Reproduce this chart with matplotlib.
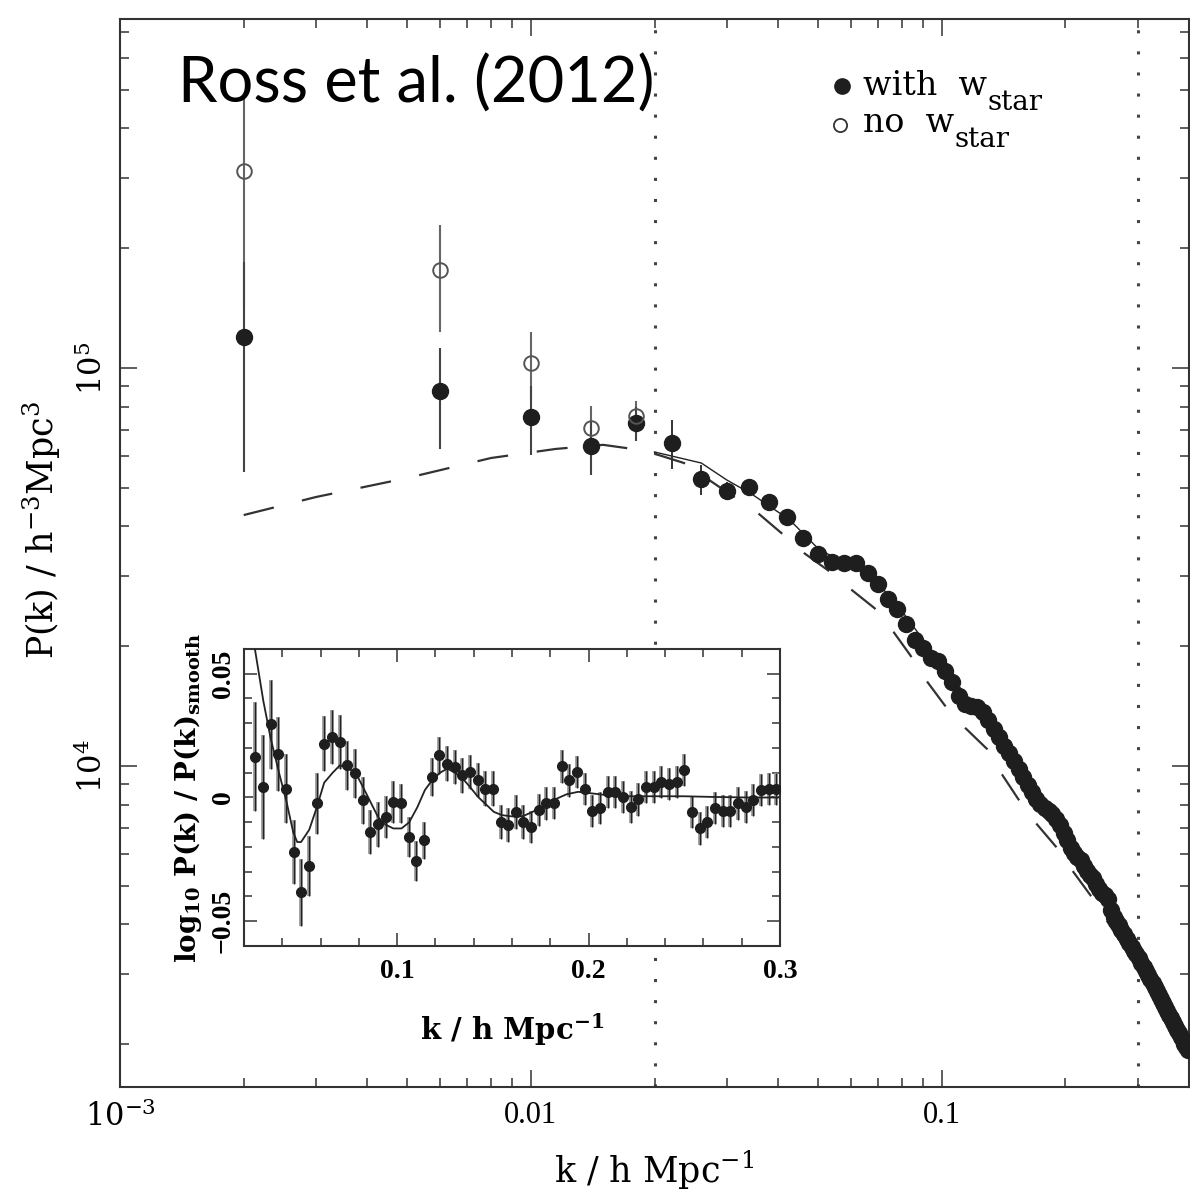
import matplotlib
matplotlib.use("Agg")
import matplotlib.pyplot as plt
from matplotlib.ticker import FixedLocator, LogLocator, MultipleLocator, NullFormatter

plt.rcParams['font.family'] = ['Liberation Serif', 'DejaVu Serif']
plt.rcParams['mathtext.fontset'] = 'dejavuserif'

# ---- main panel data: P(k) in h^-3 Mpc^3 ----
# large scale bins, with and without the w_star weights
k_low = [0.002, 0.006, 0.010, 0.014, 0.018]
p_low_with = [119700, 87500, 75300, 63700, 72700]
err_low_with = [65000, 25000, 15000, 10000, 7000]
p_low_no = [312600, 176300, 102900, 70700, 75800]
err_low_no = [172000, 53000, 20000, 9600, 7000]

# remaining bins (both versions coincide here)
k_main = [0.022, 0.026, 0.030, 0.034, 0.038, 0.042, 0.046, 0.050, 0.054, 0.058,
          0.062, 0.066, 0.070, 0.074, 0.078, 0.082, 0.086, 0.090, 0.094, 0.098,
          0.102, 0.106, 0.110, 0.114, 0.118, 0.122, 0.126, 0.130, 0.134, 0.138,
          0.142, 0.146, 0.150, 0.154, 0.158, 0.162, 0.166, 0.170, 0.174, 0.178,
          0.182, 0.186, 0.190, 0.194, 0.198, 0.202, 0.206, 0.210, 0.214, 0.218,
          0.222, 0.226, 0.230, 0.234, 0.238, 0.242, 0.246, 0.250, 0.254, 0.258,
          0.262, 0.266, 0.270, 0.274, 0.278, 0.282, 0.286, 0.290, 0.294, 0.298,
          0.302, 0.306, 0.310, 0.314, 0.318, 0.322, 0.326, 0.330, 0.334, 0.338,
          0.342, 0.346, 0.350, 0.354, 0.358, 0.362, 0.366, 0.370, 0.374, 0.378,
          0.382, 0.386, 0.390, 0.394, 0.398]
p_main = [64800, 52600, 49100, 50200, 46100, 42200, 37400, 34100, 32600, 32400,
          32400, 30500, 28700, 26300, 24800, 22700, 20700, 19800, 18700, 18360,
          17330, 16260, 14990, 14310, 14150, 14070, 13670, 13050, 12390, 11830,
          11230, 10780, 10290, 9830, 9380, 8960, 8600, 8260, 8030, 7840,
          7710, 7575, 7360, 7110, 6790, 6520, 6220, 6040, 5910, 5805,
          5607, 5447, 5322, 5231, 5053, 4909, 4796, 4741, 4632, 4346,
          4174, 4079, 3985, 3872, 3784, 3675, 3592, 3508, 3429, 3369,
          3293, 3199, 3126, 3054, 2985, 2916, 2850, 2785, 2721, 2659,
          2599, 2539, 2481, 2425, 2369, 2328, 2275, 2223, 2172, 2135,
          2086, 2050, 2003, 1968, 1934]
err_main_first = [9000, 4600, 2500]

# smooth (no-wiggle) model, dashed
k_smooth = [0.002, 0.003, 0.005, 0.008, 0.0115, 0.015, 0.0185, 0.0205, 0.0236, 0.0357,
            0.0407, 0.0462, 0.0527, 0.0601, 0.0687, 0.0764, 0.0838, 0.0923, 0.1016, 0.1135,
            0.129, 0.1395, 0.1536, 0.1695, 0.190, 0.2075, 0.230, 0.30, 0.40]
p_smooth = [42700, 47400, 52900, 59400, 62600, 64100, 62200, 60400, 57700, 43200,
            38500, 34300, 31100, 27800, 24900, 21700, 19000, 16260, 14230, 12530,
            11030, 9600, 8260, 7190, 6260, 5480, 4740, 3100, 1850]

# BAO model fit, solid
k_fit = [0.020, 0.026, 0.030, 0.0345, 0.0427, 0.0504, 0.060, 0.070, 0.080, 0.100,
         0.120, 0.150, 0.200, 0.250, 0.300, 0.400]
p_fit = [61500, 57700, 52300, 48200, 41500, 34900, 32000, 28800, 24500, 18000,
         14200, 10300, 6600, 4750, 3300, 1930]

k_range = [0.02, 0.3]

# ---- inset data: log10 P(k)/P(k)_smooth ----
k_in = [0.026, 0.030, 0.034, 0.038, 0.042, 0.046, 0.050, 0.054, 0.058, 0.062,
        0.066, 0.070, 0.074, 0.078, 0.082, 0.086, 0.090, 0.094, 0.098, 0.102,
        0.106, 0.110, 0.114, 0.118, 0.122, 0.126, 0.130, 0.134, 0.138, 0.142,
        0.146, 0.150, 0.154, 0.158, 0.162, 0.166, 0.170, 0.174, 0.178, 0.182,
        0.186, 0.190, 0.194, 0.198, 0.202, 0.206, 0.210, 0.214, 0.218, 0.222,
        0.226, 0.230, 0.234, 0.238, 0.242, 0.246, 0.250, 0.254, 0.258, 0.262,
        0.266, 0.270, 0.274, 0.278, 0.282, 0.286, 0.290, 0.294, 0.298]
r_in = [0.0164, 0.0043, 0.0296, 0.0177, 0.0036, -0.0219, -0.0383, -0.0277, -0.0024, 0.0218,
        0.0244, 0.0224, 0.0130, 0.0097, -0.0011, -0.0139, -0.0108, -0.0078, -0.0018, -0.0024,
        -0.0159, -0.0256, -0.0172, 0.0083, 0.0171, 0.0137, 0.0123, 0.0090, 0.0103, 0.0070,
        0.0036, 0.0036, -0.0098, -0.0112, -0.0058, -0.0098, -0.0119, -0.0051, -0.0024, -0.0022,
        0.0126, 0.0070, 0.0103, 0.0036, -0.0054, -0.0044, 0.0023, 0.0023, 0.0002, -0.0038,
        -0.0008, 0.0043, 0.0043, 0.0063, 0.0056, 0.0063, 0.0110, -0.0058, -0.0125, -0.0098,
        -0.0044, -0.0054, -0.0054, -0.0024, -0.0038, -0.0011, 0.0029, 0.0034, 0.0034]
e_in = [0.022, 0.021, 0.018, 0.015, 0.014, 0.013, 0.0135, 0.012, 0.0125, 0.011,
        0.011, 0.011, 0.010, 0.010, 0.0095, 0.009, 0.009, 0.0085, 0.0085, 0.008,
        0.008, 0.008, 0.0075, 0.0075, 0.0075, 0.007, 0.007, 0.007, 0.007, 0.007,
        0.007, 0.007, 0.0068, 0.0068, 0.0068, 0.0068, 0.0066, 0.0066, 0.0066, 0.0066,
        0.0066, 0.0066, 0.0065, 0.0065, 0.0065, 0.0065, 0.0065, 0.0065, 0.0065, 0.0065,
        0.0065, 0.0065, 0.0065, 0.0065, 0.0065, 0.0065, 0.0065, 0.0065, 0.0065, 0.0065,
        0.0065, 0.0065, 0.0065, 0.0065, 0.0065, 0.0065, 0.0065, 0.0065, 0.0065]

k_in_model = [0.0245, 0.0257, 0.0301, 0.0339, 0.0383, 0.0423, 0.0457, 0.0478, 0.0498, 0.0541,
              0.0580, 0.0619, 0.0663, 0.0701, 0.0739, 0.0783, 0.0823, 0.0862, 0.0901, 0.0940,
              0.0980, 0.1023, 0.1063, 0.1105, 0.1145, 0.1183, 0.1224, 0.1262, 0.1302, 0.1342,
              0.1380, 0.1423, 0.1467, 0.1505, 0.1546, 0.1585, 0.1624, 0.1659, 0.1746, 0.1815,
              0.1885, 0.1946, 0.2024, 0.2146, 0.2320, 0.2494, 0.2668, 0.2842, 0.2990]
r_in_model = [0.068, 0.060, 0.039, 0.024, 0.010, -0.002, -0.014, -0.018, -0.018, -0.013,
              -0.004, 0.006, 0.010, 0.013, 0.012, 0.010, 0.004, -0.002, -0.008, -0.011,
              -0.0125, -0.0125, -0.010, -0.004, 0.003, 0.007, 0.010, 0.0117, 0.010, 0.0077,
              0.0043, 0.0002, -0.003, -0.0058, -0.0071, -0.0075, -0.0078, -0.0075, -0.0044, -0.0011,
              0.0013, 0.0023, 0.0016, 0.0005, 0.0005, 0.0005, 0.0002, 0.0, 0.0]

legend_labels = ['with', 'no']

W, H = 1190, 1194
fig = plt.figure(figsize=(W / 100, H / 100), dpi=100)

# main axes: pixel box 120..1189 x 19..1087
ax = fig.add_axes([120 / W, 1 - 1087 / H, 1069 / W, 1068 / H])
ax.set_xscale('log')
ax.set_yscale('log')
ax.set_xlim(1e-3, 0.4)
ax.set_ylim(1561, 7.53e5)

ax.plot(k_smooth, p_smooth, color='#333333', lw=1.6, dashes=(14, 13), zorder=2)
ax.plot(k_fit, p_fit, color='#222222', lw=1.0, zorder=2)
for kv in k_range:
    ax.axvline(kv, color='#444444', lw=2.2, ls=(0, (1, 5.9)), zorder=1)

ax.errorbar(k_low, p_low_no, yerr=err_low_no, fmt='none', ecolor='#666666', elinewidth=1.5, zorder=3)
ax.errorbar(k_low, p_low_with, yerr=err_low_with, fmt='none', ecolor='#444444', elinewidth=1.5, zorder=3)
ax.errorbar(k_main[:3], p_main[:3], yerr=err_main_first, fmt='none', ecolor='#333333', elinewidth=1.4, zorder=3)
ax.plot(k_low, p_low_with, 'o', ms=11.5, color='#1e1e1e', zorder=4)
ax.plot(k_main, p_main, 'o', ms=11.5, color='#1e1e1e', zorder=4)
ax.plot(k_low, p_low_no, 'o', ms=10.5, mfc='none', mec='#555555', mew=1.4, zorder=5)

ax.xaxis.set_major_locator(FixedLocator([1e-3, 1e-2, 1e-1]))
ax.set_xticklabels([r'$10^{-3}$', '0.01', '0.1'])
ax.xaxis.set_minor_locator(LogLocator(base=10, subs=range(2, 10), numticks=20))
ax.xaxis.set_minor_formatter(NullFormatter())
ax.yaxis.set_major_locator(FixedLocator([1e4, 1e5]))
ax.set_yticklabels([r'$10^{4}$', r'$10^{5}$'])
ax.yaxis.set_minor_locator(LogLocator(base=10, subs=range(2, 10), numticks=20))
ax.yaxis.set_minor_formatter(NullFormatter())
ax.tick_params(which='both', direction='in', top=True, right=True, color='#333333')
ax.tick_params(which='major', length=12, width=1.1, labelsize=22, pad=10)
ax.tick_params(which='minor', length=6.5, width=1.1)
ax.tick_params(axis='y', labelrotation=90, pad=8)
for lab in ax.get_yticklabels():
    lab.set_va('center')
for sp in ax.spines.values():
    sp.set_linewidth(1.5)
    sp.set_color('#333333')

ax.set_xlabel(r'k / h Mpc$^{-1}$', family='DejaVu Serif', fontsize=25, va='center')
ax.xaxis.set_label_coords(0.5, -(1170 - 1087) / 1068)
ax.set_ylabel(r'P(k) / h$^{-3}$Mpc$^{3}$', family='DejaVu Serif', fontsize=25,
              va='center', ha='center')
ax.yaxis.set_label_coords(-(120 - 42) / 1069, (1087 - 530) / 1068)

# legend, placed by hand; the subscript follows the measured width of the label
ax.plot([0.6754], [0.9373], 'o', ms=11, color='#1e1e1e', transform=ax.transAxes, clip_on=False)
ax.plot([0.6735], [0.9007], 'o', ms=9.5, mfc='none', mec='#333333', mew=1.3,
        transform=ax.transAxes, clip_on=False)
renderer = fig.canvas.get_renderer()
for lab, y_base, y_sub in zip(legend_labels, [0.9288, 0.8942], [0.9148, 0.8801]):
    t = ax.text(0.695, y_base, lab + '  w', family='DejaVu Serif', fontsize=24,
                va='baseline', transform=ax.transAxes)
    bb = t.get_window_extent(renderer=renderer)
    x_sub = ax.transAxes.inverted().transform((bb.x1, bb.y0))[0]
    ax.text(x_sub, y_sub, 'star', family='DejaVu Serif', fontsize=20,
            va='baseline', transform=ax.transAxes)

fig.text(178 / W, 1 - 103 / H, 'Ross et al. (2012)', family='Lato', fontsize=45.5,
         ha='left', va='baseline')

# inset: pixel box 244..780 x 649..946
axin = fig.add_axes([244 / W, 1 - 946 / H, 536 / W, 297 / H])
axin.set_facecolor('white')
axin.set_xlim(0.02, 0.3)
axin.set_ylim(-0.06, 0.06)
axin.errorbar(k_in, r_in, yerr=e_in, fmt='none', ecolor='#a0a0a0', elinewidth=2.8, zorder=2)
axin.errorbar(k_in, r_in, yerr=e_in, fmt='none', ecolor='#222222', elinewidth=1.0, zorder=3)
axin.plot(k_in_model, r_in_model, color='#222222', lw=1.3, zorder=4)
axin.plot(k_in, r_in, 'o', ms=7, color='#1e1e1e', zorder=5)

axin.xaxis.set_major_locator(FixedLocator([0.1, 0.2, 0.3]))
axin.set_xticklabels(['0.1', '0.2', '0.3'])
axin.xaxis.set_minor_locator(MultipleLocator(0.02))
axin.yaxis.set_major_locator(FixedLocator([-0.05, 0.0, 0.05]))
axin.set_yticklabels(['\u22120.05', '0', '0.05'])
axin.yaxis.set_minor_locator(MultipleLocator(0.01))
axin.tick_params(which='both', direction='in', top=True, right=True, color='#333333')
axin.tick_params(which='major', length=9.4, width=1.1, labelsize=20, pad=9)
axin.tick_params(which='minor', length=5.8, width=1.1)
axin.tick_params(axis='y', labelrotation=90, pad=6)
for lab in axin.get_yticklabels():
    lab.set_va('center')
for lab in axin.get_xticklabels() + axin.get_yticklabels():
    lab.set_fontweight('bold')
for sp in axin.spines.values():
    sp.set_linewidth(1.5)
    sp.set_color('#333333')

axin.set_xlabel(r'k / h Mpc$^{\mathbf{-1}}$', family='DejaVu Serif', fontsize=21,
                fontweight='bold', va='center')
axin.xaxis.set_label_coords(0.5, -(1030 - 946) / 297)
axin.set_ylabel(r'log$_{\mathbf{10}}$ P(k) / P(k)$_{\mathbf{smooth}}$', family='DejaVu Serif',
                fontsize=20, fontweight='bold', va='center', ha='center')
axin.yaxis.set_label_coords(-(244 - 188) / 536, 0.5)

fig.savefig('out.png', dpi=100)
